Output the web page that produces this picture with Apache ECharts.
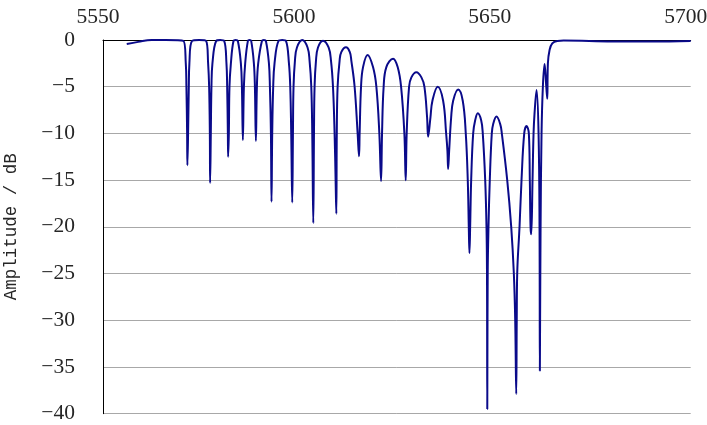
<!DOCTYPE html>
<html>
<head>
<meta charset="utf-8">
<script src="https://cdn.jsdelivr.net/npm/echarts@6/dist/echarts.min.js"></script>
<style>
html,body{margin:0;padding:0;background:#fff;}
#chart{width:707px;height:425px;}
</style>
</head>
<body>
<div id="chart"></div>
<script>
// Frequency (MHz)
const freq = [
  5556.06, 5559.0, 5562.4, 5566.0,
  5570.52, 5571.13, 5571.29, 5571.47, 5571.54, 5571.72, 5571.90, 5572.05, 5572.74, 5574.53,
  5576.32, 5576.83, 5577.09, 5577.27, 5577.34, 5577.52, 5577.68, 5577.93, 5578.88, 5579.90,
  5580.92, 5581.51, 5581.69, 5581.87, 5581.94, 5582.12, 5582.28, 5582.64, 5583.30, 5583.86,
  5584.42, 5585.19, 5585.45, 5585.70, 5585.96, 5586.29, 5586.98, 5587.39,
  5587.82, 5588.51, 5588.77, 5589.02, 5589.28, 5589.61, 5590.56, 5591.07,
  5591.58, 5592.35, 5592.60, 5592.86, 5593.01, 5593.19, 5593.44, 5593.78, 5594.80, 5595.75,
  5596.69, 5597.46, 5597.79, 5598.04, 5598.30, 5598.48, 5598.63, 5598.99, 5599.50, 5600.86,
  5602.21, 5602.72, 5603.16, 5603.41, 5603.67, 5603.85, 5604.00, 5604.36, 5604.87, 5606.15,
  5607.58, 5608.19, 5608.70, 5609.11, 5609.37, 5609.55, 5609.67, 5609.88, 5610.39, 5610.82, 5612.02,
  5613.00, 5613.38, 5614.22, 5614.99, 5615.35, 5615.50, 5615.86, 5616.37, 5617.54,
  5618.92, 5619.77, 5620.53, 5620.97, 5621.22, 5621.63, 5622.32, 5624.04,
  5625.21, 5626.08, 5626.92, 5627.26, 5627.51, 5628.12, 5628.71, 5629.99,
  5631.27, 5632.03, 5632.72, 5632.98, 5633.57, 5634.08, 5635.43,
  5636.81, 5637.58, 5637.91, 5638.09, 5638.35, 5638.86, 5639.37, 5640.65,
  5641.82, 5642.59, 5643.10, 5643.36, 5643.53, 5643.71, 5643.97, 5644.48, 5644.99, 5645.66,
  5646.52, 5646.93, 5647.55, 5647.88, 5648.01, 5648.08, 5648.19, 5648.39, 5648.72, 5649.23, 5649.59, 5650.43,
  5651.38, 5651.79, 5653.17, 5654.19, 5654.86, 5655.21, 5655.47, 5655.60, 5655.72, 5656.31, 5656.82, 5657.51, 5658.10,
  5658.69, 5658.94, 5659.12, 5659.30, 5659.63, 5659.89, 5660.15, 5660.66,
  5661.17, 5661.42, 5661.50, 5661.68, 5661.93, 5662.27, 5662.70,
  5663.14, 5663.39, 5663.55, 5663.98, 5664.67, 5665.95, 5667.56, 5680.0, 5690.0, 5700.0
];
// Amplitude (dB)
const amplitude = [
  -0.43, -0.2, 0, 0,
  -0.1, -2.5, -5, -10, -13.4, -10, -5, -2.5, -0.1, 0,
  -0.1, -2.5, -5, -10, -15.3, -10, -5, -2.5, -0.1, 0,
  -0.1, -2.5, -5, -10, -12.5, -10, -5, -2.5, -0.1, 0,
  -0.1, -2.5, -5, -10.7, -5, -2.5, -0.1, 0,
  -0.1, -2.5, -5, -10.8, -5, -2.5, -0.1, 0,
  -0.1, -2.5, -5, -10, -17.3, -10, -5, -2.5, -0.1, 0,
  -0.1, -2.5, -5, -10, -17.4, -10, -5, -2.2, -0.8, 0,
  -0.8, -2.2, -5, -10, -19.6, -10, -5, -2.2, -0.8, -0.07,
  -0.8, -2.2, -5, -10, -15, -18.6, -10, -5, -2.2, -1.3, -0.78,
  -1.3, -2.2, -5, -10, -12.45, -10, -5, -2.9, -1.6,
  -2.9, -5, -10, -15.1, -10, -5, -2.9, -2.0,
  -2.9, -5, -10, -15, -10, -5, -4.0, -3.46,
  -4.0, -5, -8.3, -10.35, -8.3, -6.5, -5.0,
  -6.5, -10, -11.85, -13.8, -11.85, -8.3, -6.5, -5.3,
  -6.5, -10, -15, -20, -22.8, -20, -15, -10, -8.6, -7.85,
  -8.6, -10, -15, -20, -25, -39.5, -25, -20, -15, -10, -9.0, -8.2,
  -9.0, -10, -15, -20, -25, -30, -37.9, -30, -25, -20, -15, -10, -9.2,
  -10, -15, -20, -20.8, -15, -10, -7.8, -5.35,
  -10, -20.3, -35.4, -20.3, -10, -5, -2.57,
  -5, -6.3, -2.5, -1.07, -0.36, -0.1, -0.05, -0.15, -0.16, -0.1
];
const xTicks = [5550, 5600, 5650, 5700];
const yTicks = [0, -5, -10, -15, -20, -25, -30, -35, -40];
const yAxisTitle = 'Amplitude / dB';

const points = freq.map((f, i) => [f, amplitude[i]]);

const chart = echarts.init(document.getElementById('chart'), null, {renderer: 'canvas'});
chart.setOption({
  backgroundColor: '#ffffff',
  animation: false,
  grid: {left: 103, right: 16.3, top: 40, bottom: 11.3, containLabel: false, outerBoundsMode: 'none'},
  xAxis: {
    type: 'value',
    position: 'top',
    min: xTicks[0],
    max: xTicks[xTicks.length - 1],
    interval: 50,
    axisLine: {show: true, onZero: false, lineStyle: {color: '#000', width: 1}},
    axisTick: {show: false},
    splitLine: {show: false},
    axisLabel: {
      margin: 12,
      color: '#262626',
      fontFamily: 'Liberation Serif',
      fontSize: 21.5,
      padding: [0, 10, 0, 0],
      formatter: v => String(v)
    }
  },
  yAxis: {
    type: 'value',
    min: yTicks[yTicks.length - 1],
    max: yTicks[0],
    interval: 5,
    name: yAxisTitle,
    nameLocation: 'middle',
    nameGap: 83,
    nameRotate: 90,
    nameTextStyle: {fontFamily: 'Liberation Mono', fontSize: 17.5, color: '#262626'},
    axisLine: {show: true, onZero: false, lineStyle: {color: '#000', width: 1}},
    axisTick: {show: false},
    splitLine: {show: true, lineStyle: {color: '#a8a8a8', width: 1}},
    axisLabel: {
      margin: 28,
      color: '#262626',
      fontFamily: 'Liberation Serif',
      fontSize: 21.5,
      formatter: v => (v < 0 ? '\u2212' + Math.abs(v) : String(v))
    }
  },
  series: [{
    type: 'line',
    data: points,
    showSymbol: false,
    smooth: 0.4,
    clip: true,
    lineStyle: {color: '#0a0a8a', width: 2}
  }]
});
</script>
</body>
</html>
